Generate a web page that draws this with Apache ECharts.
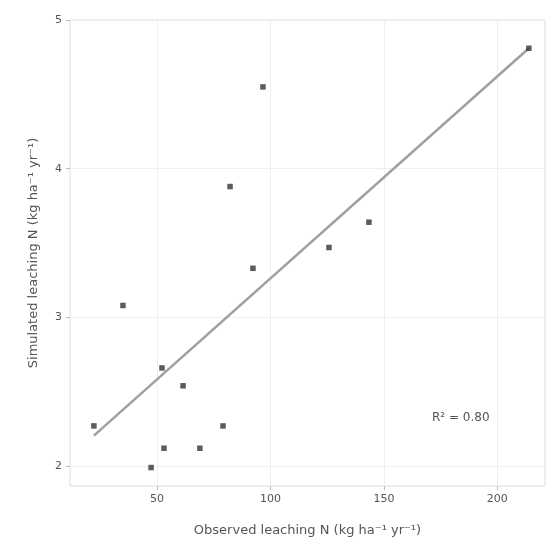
<!DOCTYPE html>
<html>
<head>
<meta charset="utf-8">
<script src="https://cdn.jsdelivr.net/npm/echarts@6/dist/echarts.min.js"></script>
<style>html,body{margin:0;padding:0;background:#fff}#c{width:548px;height:542px}</style>
</head>
<body>
<div id="c"></div>
<script>
// Observed (x) and simulated (y) values
const observed  = [22.2, 35.0, 52.2, 61.5, 53.1, 47.4, 68.9, 79.1, 82.2, 96.7, 92.3, 125.8, 143.4, 213.9];
const simulated = [2.27, 3.08, 2.66, 2.54, 2.12, 1.99, 2.12, 2.27, 3.88, 4.55, 3.33, 3.47, 3.64, 4.81];
// Fitted regression line end points
const fitX = [22.2, 213.9];
const fitY = [2.205, 4.81];
const xTicks = [50, 100, 150, 200];
const yTicks = [2, 3, 4, 5];
const r2Text = 'R² = 0.80';

const pts = observed.map((x, i) => [x, simulated[i]]);
const fit = fitX.map((x, i) => [x, fitY[i]]);

const chart = echarts.init(document.getElementById('c'), null, {renderer: 'canvas'});
const txt = '#555';
chart.setOption({
  animation: false,
  backgroundColor: '#fff',
  grid: {left: 70, right: 3, top: 20, bottom: 54, show: true, borderColor: '#dcdcdc', borderWidth: 1},
  xAxis: {
    type: 'value', min: 11.67, max: 221,
    name: 'Observed leaching N (kg ha⁻¹ yr⁻¹)', nameLocation: 'middle', nameGap: 38,
    nameTextStyle: {color: txt, fontSize: 13, fontFamily: 'DejaVu Sans'},
    axisLine: {show: false}, splitLine: {show: false},
    axisTick: {show: true, customValues: xTicks, length: 4, lineStyle: {color: '#bbb'}},
    axisLabel: {customValues: xTicks, color: txt, fontSize: 11, margin: 8, fontFamily: 'DejaVu Sans'}
  },
  yAxis: {
    type: 'value', min: 1.866, max: 5.0,
    name: 'Simulated leaching N (kg ha⁻¹ yr⁻¹)', nameLocation: 'middle', nameGap: 30,
    nameTextStyle: {color: txt, fontSize: 13, fontFamily: 'DejaVu Sans'},
    axisLine: {show: false}, splitLine: {show: false},
    axisTick: {show: true, customValues: yTicks, length: 4, lineStyle: {color: '#bbb'}},
    axisLabel: {customValues: yTicks, color: txt, fontSize: 11, margin: 8, fontFamily: 'DejaVu Sans'}
  },
  series: [
    {
      type: 'line', data: [], symbol: 'none', silent: true, z: 1,
      markLine: {
        silent: true, symbol: 'none', label: {show: false}, z: 1,
        lineStyle: {color: '#efefef', width: 1, type: 'solid'},
        data: xTicks.map(v => ({xAxis: v})).concat(yTicks.map(v => ({yAxis: v})))
      }
    },
    {
      type: 'line', data: fit, symbol: 'none', silent: true,
      lineStyle: {color: '#a0a0a0', width: 2.5}, z: 5
    },
    {
      type: 'scatter', data: pts, symbol: 'rect', symbolSize: 5.5,
      itemStyle: {color: '#333'}, z: 6
    }
  ],
  graphic: [{
    type: 'text', left: 432, top: 412,
    style: {text: r2Text, fill: txt, fontSize: 12, fontFamily: 'DejaVu Sans'}
  }]
});
</script>
</body>
</html>
